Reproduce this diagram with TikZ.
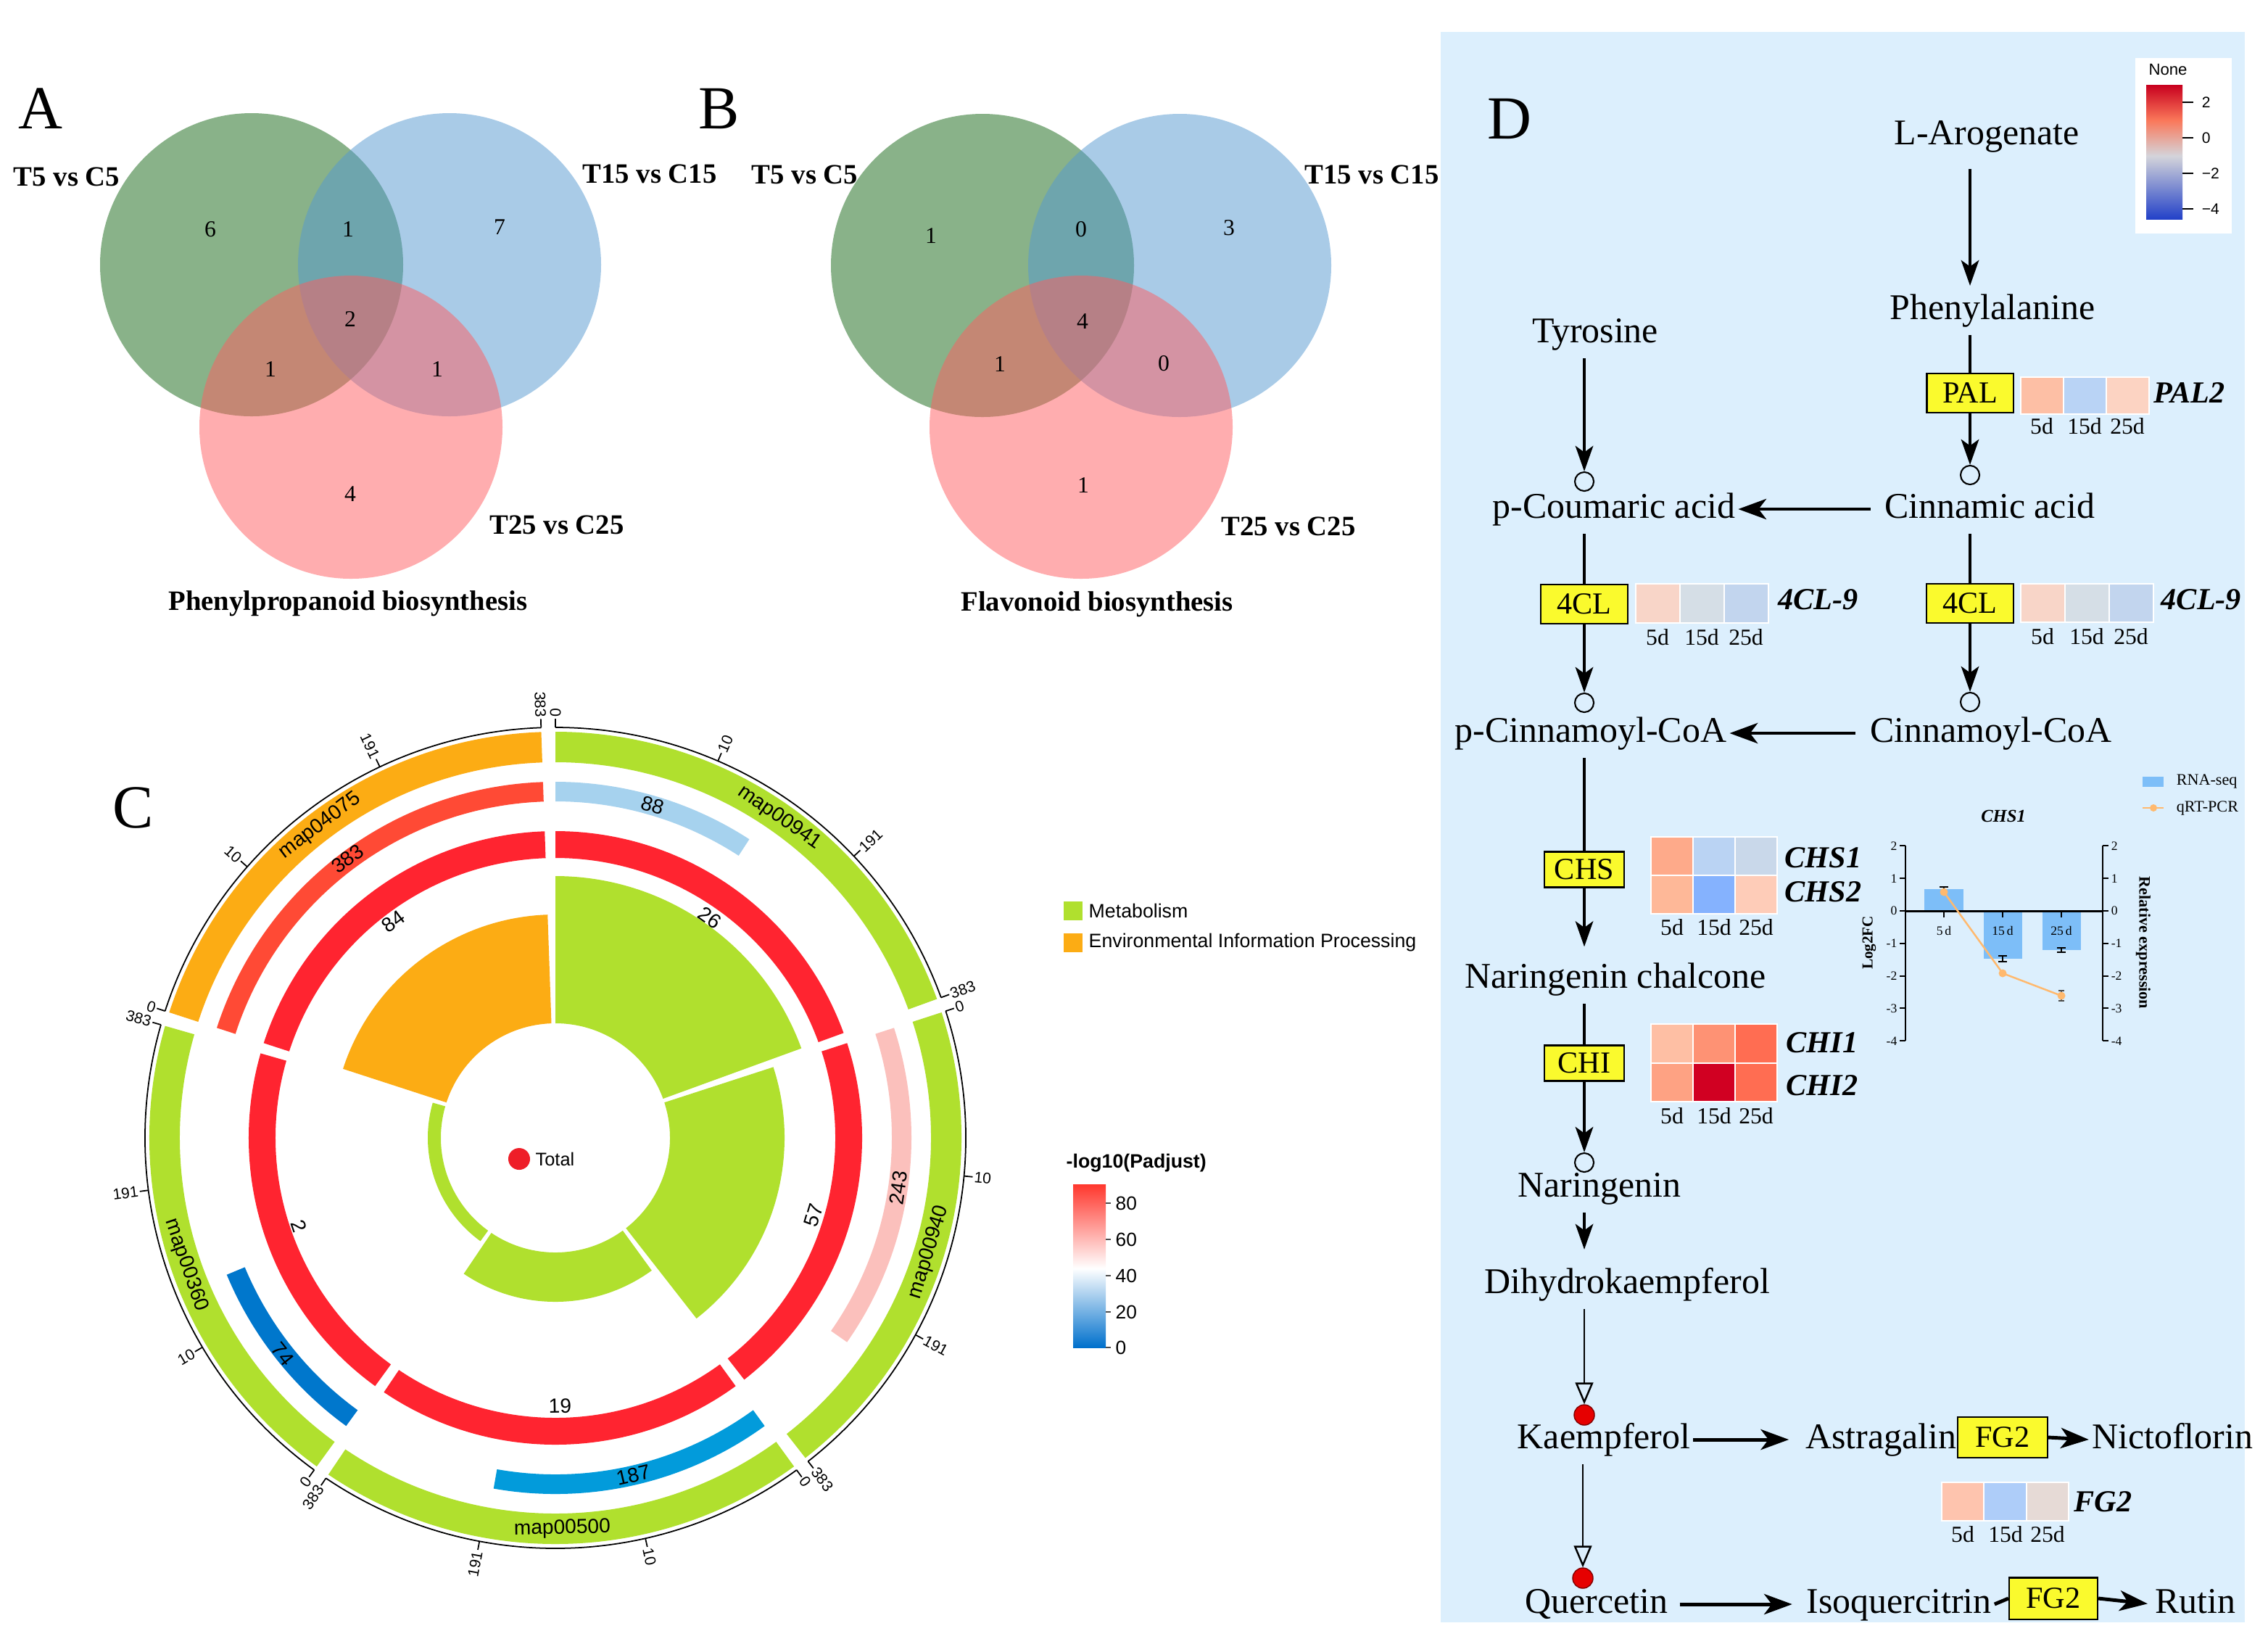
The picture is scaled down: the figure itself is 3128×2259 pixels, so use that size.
\documentclass[tikz,border=0pt]{standalone}
\usepackage{fontspec}
\setmainfont{Liberation Serif}
\newfontfamily\arialf{Liberation Sans}
\usetikzlibrary{arrows.meta}
\newcommand{\myfs}[1]{\fontsize{#1}{#1}\selectfont}
\definecolor{vgreen}{RGB}{21,103,21}
\definecolor{vblue}{RGB}{85,153,209}
\definecolor{vpink}{RGB}{255,93,97}
\definecolor{lime}{RGB}{176,224,46}
\definecolor{orng}{RGB}{252,172,20}
\definecolor{ringred}{RGB}{255,36,48}
\definecolor{barA}{RGB}{166,210,238}
\definecolor{barB}{RGB}{251,192,188}
\definecolor{barC}{RGB}{2,155,219}
\definecolor{barD}{RGB}{0,119,204}
\definecolor{barE}{RGB}{255,74,53}
\definecolor{dbg}{RGB}{220,239,253}
\definecolor{enzy}{RGB}{250,250,45}
\definecolor{rnab}{RGB}{125,190,248}
\definecolor{qpcr}{RGB}{255,185,110}
\definecolor{totred}{RGB}{238,30,40}
\definecolor{kred}{RGB}{230,0,0}
\definecolor{cbR}{RGB}{255,55,45}
\definecolor{cbB}{RGB}{0,112,204}
\definecolor{hmA}{RGB}{200,0,30}
\definecolor{hmB}{RGB}{250,120,90}
\definecolor{hmC}{RGB}{245,190,170}
\definecolor{hmD}{RGB}{212,212,218}
\definecolor{hmE}{RGB}{120,165,245}
\definecolor{hmF}{RGB}{35,65,200}
\definecolor{palA}{HTML}{FDBFA5}\definecolor{palB}{HTML}{B9D3F5}\definecolor{palC}{HTML}{FCD3C2}
\definecolor{clA}{HTML}{F8D5C8}\definecolor{clB}{HTML}{D5DEE6}\definecolor{clC}{HTML}{C2D5EE}
\definecolor{chsaA}{HTML}{FEAA8A}\definecolor{chsaB}{HTML}{BAD3F3}\definecolor{chsaC}{HTML}{C9D8EA}
\definecolor{chsbA}{HTML}{FEB898}\definecolor{chsbB}{HTML}{85B2FE}\definecolor{chsbC}{HTML}{FECCB8}
\definecolor{chiaA}{HTML}{FEBFA4}\definecolor{chiaB}{HTML}{FE9274}\definecolor{chiaC}{HTML}{FF6D52}
\definecolor{chibA}{HTML}{FEA283}\definecolor{chibB}{HTML}{D10022}\definecolor{chibC}{HTML}{FF6D52}
\definecolor{fgA}{HTML}{FEC4AE}\definecolor{fgB}{HTML}{AECDF9}\definecolor{fgC}{HTML}{E6DAD6}
% annular sector: colour, r in, r out, start angle, end angle
\newcommand{\annsec}[5]{\fill[#1] (#4:#2) arc[start angle=#4,end angle=#5,radius=#2] -- (#5:#3) arc[start angle=#5,end angle=#4,radius=#3] -- cycle;}
\newcommand{\ticklab}[3]{%
  \pgfmathtruncatemacro{\rhalf}{cos(#1)>-0.01 ? 1 : 0}%
  \ifnum\rhalf=1 \node[tlab,anchor=west,rotate=#1] (#3) at (#1:576) {#2};%
  \else \node[tlab,anchor=east,rotate=#1+180] (#3) at (#1:576) {#2};\fi}
\newcommand{\csector}[3]{%
  \draw[axisl] (#1:566) arc[start angle=#1,end angle=#2,radius=566];
  \pgfmathsetmacro{\tkA}{#1-70/3}\pgfmathsetmacro{\tkB}{#1-140/3}%
  \foreach \tka in {#1,\tkA,\tkB,#2} {\draw[axisl] (\tka:566) -- (\tka:578);}
  \ticklab{#1}{0}{#3a}\ticklab{\tkA}{10}{#3b}\ticklab{\tkB}{191}{#3c}\ticklab{#2}{383}{#3d}}
\newcommand{\hcell}[5]{\filldraw[fill=#1, draw=white, line width=0.6pt] (#2,#3) rectangle (#4,#5);}
\newcommand{\days}[5]{\node[dayl] (#1a) at (#2,#5) {5d}; \node[dayl] (#1b) at (#3,#5) {15d}; \node[dayl] (#1c) at (#4,#5) {25d};}
\begin{document}
\begin{tikzpicture}[x=0.01cm,y=-0.01cm,
  plab/.style={font=\myfs{24}, inner sep=0pt},
  vnum/.style={font=\myfs{9}, inner sep=0pt},
  vlab/.style={font=\myfs{11}\bfseries, inner sep=0pt},
  tlab/.style={font=\arialf\myfs{6}, inner sep=1pt},
  mlab/.style={font=\arialf\myfs{8}, inner sep=0pt},
  nlab/.style={font=\arialf\myfs{8}, inner sep=0pt},
  axisl/.style={line width=0.5pt},
  legt/.style={font=\arialf\myfs{7.6}, anchor=west, inner sep=0pt},
  pw/.style={font=\myfs{14.2}, inner xsep=1pt, inner ysep=3pt, text height=10pt, text depth=3pt},
  enz/.style={draw=black, line width=0.6pt, fill=enzy, font=\myfs{12}, inner sep=0pt},
  gene/.style={font=\myfs{12}\bfseries\itshape, anchor=west, inner sep=0pt},
  dayl/.style={font=\myfs{9}, inner sep=0pt},
  opc/.style={circle, draw=black, line width=0.6pt, minimum size=0.26cm, inner sep=0pt},
  redc/.style={circle, draw=black!50!red, line width=0.4pt, fill=kred, minimum size=0.28cm, inner sep=0pt},
  varr/.style={-{Stealth[length=10pt,width=7pt,inset=2.5pt]}, line width=0.9pt},
  vline/.style={line width=0.9pt},
  harr/.style={-{Stealth[length=11pt,width=8pt,inset=3pt]}, line width=1.4pt},
  oarr/.style={-{Triangle[open,length=8.5pt,width=7pt]}, line width=0.7pt},
  chax/.style={line width=0.6pt},
  ctick/.style={font=\myfs{5}, inner sep=0pt},
]
\useasboundingbox (0,0) rectangle (3128,2259);
\fill[white] (0,0) rectangle (3128,2259);

%================ Panel A ================
\node[plab] (labA) at (56,150) {A};
\fill[vgreen, fill opacity=0.5] (347,365) circle[radius=209];
\fill[vblue, fill opacity=0.5] (620,365) circle[radius=209];
\fill[vpink, fill opacity=0.5] (484,589) circle[radius=209];
\node[vlab] (a1) at (92,244) {T5 vs C5};
\node[vlab] (a2) at (896,240) {T15 vs C15};
\node[vlab] (a3) at (768,724) {T25 vs C25};
\node[vlab] (a4) at (480,832) {Phenylpropanoid biosynthesis};
\node[vnum] (an1) at (290,316) {6};
\node[vnum] (an2) at (480,316) {1};
\node[vnum] (an3) at (689,313) {7};
\node[vnum] (an4) at (483,440) {2};
\node[vnum] (an5) at (373,509) {1};
\node[vnum] (an6) at (603,509) {1};
\node[vnum] (an7) at (483,681) {4};

%================ Panel B ================
\node[plab] (labB) at (992,150) {B};
\fill[vgreen, fill opacity=0.5] (1355,366) circle[radius=209];
\fill[vblue, fill opacity=0.5] (1627,366) circle[radius=209];
\fill[vpink, fill opacity=0.5] (1491,589) circle[radius=209];
\node[vlab] (b1) at (1110,241) {T5 vs C5};
\node[vlab] (b2) at (1892,241) {T15 vs C15};
\node[vlab] (b3) at (1777,726) {T25 vs C25};
\node[vlab] (b4) at (1513,833) {Flavonoid biosynthesis};
\node[vnum] (bn1) at (1284,325) {1};
\node[vnum] (bn2) at (1491,316) {0};
\node[vnum] (bn3) at (1695,314) {3};
\node[vnum] (bn4) at (1493,443) {4};
\node[vnum] (bn5) at (1379,502) {1};
\node[vnum] (bn6) at (1605,501) {0};
\node[vnum] (bn7) at (1494,669) {1};

%================ Panel C ================
\node[plab] (labC) at (184,1114) {C};
\begin{scope}[shift={(766,1569)}, yscale=-1]
  % inner sectors
  \annsec{lime}{158}{361}{90}{20}
  \annsec{lime}{158}{316}{18}{-52}
  \annsec{lime}{158}{226}{-54}{-124}
  \annsec{lime}{158}{176}{-126}{-196}
  \annsec{orng}{158}{308}{162}{92}
  % red ring
  \annsec{ringred}{386}{423}{90}{20}
  \annsec{ringred}{386}{423}{18}{-52}
  \annsec{ringred}{386}{423}{-54}{-124}
  \annsec{ringred}{386}{423}{-126}{-196}
  \annsec{ringred}{386}{423}{162}{92}
  % second track
  \annsec{barA}{464}{491}{90}{57}
  \annsec{barB}{464}{491}{18}{-35}
  \annsec{barC}{464}{491}{-54}{-100}
  \annsec{barD}{464}{491}{-126}{-157.4}
  \annsec{barE}{464}{491}{162}{92}
  % outer band
  \annsec{lime}{518}{560}{90}{20}
  \annsec{lime}{518}{560}{18}{-52}
  \annsec{lime}{518}{560}{-54}{-124}
  \annsec{lime}{518}{560}{-126}{-196}
  \annsec{orng}{518}{560}{162}{92}
  % axis with ticks
  \csector{90}{20}{ka}
  \csector{18}{-52}{kb}
  \csector{-54}{-124}{kc}
  \csector{-126}{-196}{kd}
  \csector{162}{92}{ke}
  % map labels
  \node[mlab, rotate=-35] (m941) at (55:539) {map00941};
  \node[mlab, rotate=73] (m940) at (-17:539) {map00940};
  \node[mlab, rotate=1] (m500) at (-89:539) {map00500};
  \node[mlab, rotate=-71] (m360) at (-161:539) {map00360};
  \node[mlab, rotate=37] (m4075) at (127:539) {map04075};
  % numbers
  \node[nlab, rotate=-16.3] (n88) at (73.7:478) {88};
  \node[nlab, rotate=36.7] (n383) at (126.7:480) {383};
  \node[nlab, rotate=81.7] (n243) at (-8.3:478) {243};
  \node[nlab, rotate=-51.6] (n74) at (-141.6:480) {74};
  \node[nlab, rotate=13] (n187) at (-77:477) {187};
  \node[nlab, rotate=36.8] (n84) at (126.8:373) {84};
  \node[nlab, rotate=-35] (n26) at (55:371) {26};
  \node[nlab, rotate=73.3] (n57) at (-16.7:372) {57};
  \node[nlab, rotate=1] (n19) at (-89:370) {19};
  \node[nlab, rotate=-71] (n2) at (-161:374) {2};
\end{scope}
\node[circle, fill=totred, minimum size=0.3cm, inner sep=0pt] (totdot) at (716,1598) {};
\node[font=\arialf\myfs{7.2}, anchor=west, inner sep=0pt] (tottxt) at (738,1598) {Total};
% legend
\fill[lime] (1467,1243) rectangle (1493,1269);
\node[legt] (lmet) at (1501,1256) {Metabolism};
\fill[orng] (1467,1287) rectangle (1493,1313);
\node[legt] (lenv) at (1501,1300) {Environmental Information Processing};
\node[font=\arialf\bfseries\myfs{7.6}, anchor=west, inner sep=0pt] (cbt) at (1470,1604) {-log10(Padjust)};
\shade[top color=cbR, bottom color=white] (1480,1633) rectangle (1525,1749);
\shade[top color=white, bottom color=cbB] (1480,1749) rectangle (1525,1858);
\foreach \v/\yy in {80/1659,60/1709,40/1759,20/1809,0/1858} {
  \draw[line width=0.4pt, black!70] (1525,\yy) -- (1532,\yy);
  \node[font=\arialf\myfs{7.5}, anchor=west, inner sep=0pt] (cb\v) at (1538,\yy) {\v};
}

%================ Panel D ================
\fill[dbg] (1987,44) rectangle (3096,2237);
\node[plab] (labD) at (2082,164) {D};
% legend
\fill[white] (2945,80) rectangle (3078,322);
\node[font=\arialf\myfs{6.3}, inner sep=0pt] (none) at (2990,96) {None};
\shade[top color=hmA, bottom color=hmB] (2960,117) rectangle (3010,166);
\shade[top color=hmB, middle color=hmC, bottom color=hmD] (2960,166) rectangle (3010,215);
\shade[top color=hmD, middle color=hmE, bottom color=hmF] (2960,215) rectangle (3010,302);
\foreach \v/\yy/\nm in {2/141/p,0/190/z,−2/239/m,−4/288/n} {
  \draw[line width=0.6pt] (3010,\yy) -- (3025,\yy);
  \node[font=\arialf\myfs{6}, anchor=west, inner sep=0pt] (hl\nm) at (3036,\yy) {\v};
}

% compound nodes
\node[pw] (laro) at (2740,187) {L-Arogenate};
\node[pw] (phe) at (2748,428) {Phenylalanine};
\node[pw] (tyr) at (2200,460) {Tyrosine};
\node[pw] (pcou) at (2226,702) {p-Coumaric acid};
\node[pw] (cinn) at (2744,702) {Cinnamic acid};
\node[pw] (pcin) at (2194,1011) {p-Cinnamoyl-CoA};
\node[pw] (cinco) at (2746,1011) {Cinnamoyl-CoA};
\node[pw] (nchal) at (2228,1350) {Naringenin chalcone};
\node[pw] (nar) at (2206,1638) {Naringenin};
\node[pw] (dhk) at (2244,1771) {Dihydrokaempferol};
\node[pw] (kae) at (2212,1985) {Kaempferol};
\node[pw] (ast) at (2594,1985) {Astragalin};
\node[pw] (nic) at (2996,1985) {Nictoflorin};
\node[pw] (que) at (2202,2212) {Quercetin};
\node[pw] (isoq) at (2619,2212) {Isoquercitrin};
\node[pw] (rut) at (3028,2212) {Rutin};

% circles
\node[opc] (c1) at (2185,664) {};
\node[opc] (c2) at (2717,655) {};
\node[opc] (c3) at (2185,969) {};
\node[opc] (c4) at (2717,968) {};
\node[opc] (c5) at (2185,1603) {};
\node[redc] (d1) at (2185,1951) {};
\node[redc] (d2) at (2183,2176) {};

% enzyme boxes
\node[enz, minimum width=1.19cm, minimum height=0.54cm] (pal) at (2717,542) {PAL};
\node[enz, minimum width=1.20cm, minimum height=0.54cm] (cl1) at (2185,833) {4CL};
\node[enz, minimum width=1.20cm, minimum height=0.54cm] (cl2) at (2717,832) {4CL};
\node[enz, minimum width=1.10cm, minimum height=0.49cm] (chs) at (2185,1199) {CHS};
\node[enz, minimum width=1.10cm, minimum height=0.49cm] (chi) at (2185,1466) {CHI};
\node[enz, minimum width=1.24cm, minimum height=0.56cm] (fga) at (2762,1982) {FG2};
\node[enz, minimum width=1.22cm, minimum height=0.57cm] (fgb) at (2832,2204) {FG2};

% connectors
\draw[varr, shorten <=3.4pt] (laro.south -| pal.north) -- (phe.north -| pal.north);
\draw[vline] (phe.south -| pal.north) -- (pal.north);
\draw[varr] (pal.south) -- (c2.north);
\draw[varr] (tyr.south -| c1.north) -- (c1.north);
\draw[harr, shorten <=4.3pt] (cinn.west) -- (pcou.east);
\draw[vline] (pcou.south -| cl1.north) -- (cl1.north);
\draw[varr] (cl1.south) -- (c3.north);
\draw[vline] (cinn.south -| cl2.north) -- (cl2.north);
\draw[varr] (cl2.south) -- (c4.north);
\draw[harr, shorten <=4.7pt] (cinco.west) -- (pcin.east);
\draw[vline] (pcin.south -| chs.north) -- (chs.north);
\draw[varr, shorten >=3pt] (chs.south) -- (nchal.north -| chs.south);
\draw[vline] (nchal.south -| chi.north) -- (chi.north);
\draw[varr] (chi.south) -- (c5.north);
\draw[varr, shorten >=4pt] (nar.south -| chi.south) -- (dhk.north -| chi.south);
\draw[oarr] (dhk.south -| d1.north) -- (d1.north);
\draw[oarr] (kae.south -| d2.north) -- (d2.north);
\draw[harr, shorten >=5.3pt] (kae.east) -- (ast.west);
\draw[harr] (fga.east) -- (nic.west);
\draw[harr, shorten <=3.4pt, shorten >=4.4pt] (que.east) -- (isoq.west);
\draw[line width=1.4pt] (isoq.east) -- (fgb.west);
\draw[harr, shorten >=1.8pt] (fgb.east) -- (rut.west);

% heatmaps
\hcell{palA}{2787}{520}{2846}{571}\hcell{palB}{2846}{520}{2905}{571}\hcell{palC}{2905}{520}{2964}{571}
\days{dpal}{2816}{2875}{2934}{588}
\node[gene] (gpal) at (2970,542) {PAL2};
\hcell{clA}{2256}{805}{2317}{859}\hcell{clB}{2317}{805}{2378}{859}\hcell{clC}{2378}{805}{2439}{859}
\days{dcla}{2286}{2347}{2408}{879}
\node[gene] (gcla) at (2452,827) {4CL-9};
\hcell{clA}{2787}{805}{2848}{858}\hcell{clB}{2848}{805}{2909}{858}\hcell{clC}{2909}{805}{2970}{858}
\days{dclb}{2817}{2878}{2939}{878}
\node[gene] (gclb) at (2980,827) {4CL-9};
\hcell{chsaA}{2277}{1154}{2335}{1207}\hcell{chsaB}{2335}{1154}{2393}{1207}\hcell{chsaC}{2393}{1154}{2451}{1207}
\hcell{chsbA}{2277}{1207}{2335}{1260}\hcell{chsbB}{2335}{1207}{2393}{1260}\hcell{chsbC}{2393}{1207}{2451}{1260}
\days{dchs}{2306}{2364}{2422}{1279}
\node[gene] (gchsa) at (2461,1183) {CHS1};
\node[gene] (gchsb) at (2461,1230) {CHS2};
\hcell{chiaA}{2277}{1412}{2335}{1466}\hcell{chiaB}{2335}{1412}{2393}{1466}\hcell{chiaC}{2393}{1412}{2451}{1466}
\hcell{chibA}{2277}{1466}{2335}{1519}\hcell{chibB}{2335}{1466}{2393}{1519}\hcell{chibC}{2393}{1466}{2451}{1519}
\days{dchi}{2306}{2364}{2422}{1539}
\node[gene] (gchia) at (2463,1438) {CHI1};
\node[gene] (gchib) at (2463,1497) {CHI2};
\hcell{fgA}{2678}{2044}{2736}{2097}\hcell{fgB}{2736}{2044}{2795}{2097}\hcell{fgC}{2795}{2044}{2853}{2097}
\days{dfg}{2707}{2766}{2824}{2116}
\node[gene] (gfg) at (2860,2071) {FG2};

% CHS1 chart
\node[font=\myfs{7}\bfseries\itshape, inner sep=0pt] (ctitle) at (2763,1125) {CHS1};
\fill[rnab] (2654,1256) rectangle (2708,1226);
\fill[rnab] (2736,1256) rectangle (2789,1322);
\fill[rnab] (2817,1256) rectangle (2870,1310);
\draw[chax] (2628,1166) -- (2628,1435);
\draw[chax] (2900,1166) -- (2900,1435);
\foreach \v in {2,1,0,-1,-2,-3,-4} {
  \draw[chax] (2628,{1256-44.8*\v}) -- (2620,{1256-44.8*\v});
  \draw[chax] (2900,{1256-44.8*\v}) -- (2908,{1256-44.8*\v});
  \node[ctick, anchor=east] (tl\v) at (2617,{1256-44.8*\v}) {\v};
  \node[ctick, anchor=west] (tr\v) at (2911,{1256-44.8*\v}) {\v};
}
\draw[line width=0.85pt] (2628,1256) -- (2900,1256);
\foreach \xx/\lab in {2681/5,2762/15,2843/25} {
  \draw[chax] (\xx,1256) -- (\xx,1265);
  \node[ctick] (xl\lab) at (\xx,1283) {\lab\,d};
}
\draw[line width=0.5pt] (2675,1223) -- (2687,1223) (2681,1223) -- (2681,1227);
\draw[line width=0.5pt] (2756,1318) -- (2768,1318) (2756,1326) -- (2768,1326) (2762,1318) -- (2762,1326);
\draw[line width=0.5pt] (2837,1307) -- (2849,1307) (2837,1313) -- (2849,1313) (2843,1307) -- (2843,1313);
\draw[qpcr, line width=0.7pt] (2681,1230) -- (2762,1342) -- (2843,1373);
\draw[line width=0.5pt, black!70] (2843,1366) -- (2843,1380) (2839,1366) -- (2847,1366) (2839,1380) -- (2847,1380);
\fill[qpcr] (2681,1230) circle[radius=5.5] (2762,1342) circle[radius=5.5] (2843,1373) circle[radius=5.5];
\node[font=\myfs{6}\bfseries, rotate=90, inner sep=0pt] (ylab) at (2578,1300) {Log2FC};
\node[font=\myfs{6.3}\bfseries, rotate=-90, inner sep=0pt] (y2lab) at (2956,1300) {Relative expression};
\fill[rnab] (2955,1071) rectangle (2984,1085);
\node[font=\myfs{6.3}, anchor=west, inner sep=0pt] (lrna) at (3001,1078) {RNA-seq};
\draw[qpcr, line width=0.7pt] (2955,1114) -- (2984,1114);
\fill[qpcr] (2970,1114) circle[radius=5];
\node[font=\myfs{6.3}, anchor=west, inner sep=0pt] (lqpcr) at (3001,1114) {qRT-PCR};
\end{tikzpicture}
\end{document}
